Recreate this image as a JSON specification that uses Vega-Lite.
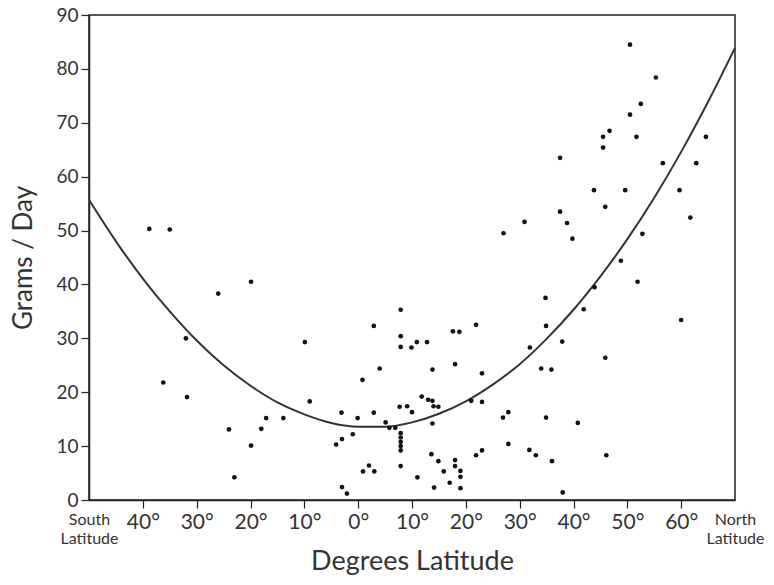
{
  "$schema": "https://vega.github.io/schema/vega-lite/v6.json",
  "width": 646,
  "height": 485,
  "autosize": {"type": "none"},
  "padding": {"left": 89, "top": 15, "right": 39, "bottom": 85},
  "background": "white",
  "config": {
    "font": "Lato",
    "view": {"stroke": "#222", "strokeWidth": 1.5},
    "axis": {"grid": false, "domainColor": "#222", "domainWidth": 1.5, "tickColor": "#222", "tickWidth": 1.2, "labelColor": "#333", "titleColor": "#333", "titleFontWeight": "normal"}
  },
  "datasets": {
    "curve": [
      {"lat": -50, "g": 55.7}, {"lat": -45, "g": 48.0}, {"lat": -40, "g": 41.1}, {"lat": -35, "g": 35.0},
      {"lat": -30, "g": 29.6}, {"lat": -25, "g": 25.0}, {"lat": -20, "g": 21.2}, {"lat": -15, "g": 18.1},
      {"lat": -10, "g": 15.9}, {"lat": -5, "g": 14.3}, {"lat": 0, "g": 13.6}, {"lat": 5, "g": 13.6},
      {"lat": 10, "g": 14.4}, {"lat": 15, "g": 16.0}, {"lat": 20, "g": 18.3}, {"lat": 25, "g": 21.4},
      {"lat": 30, "g": 25.2}, {"lat": 35, "g": 29.9}, {"lat": 40, "g": 35.3}, {"lat": 45, "g": 41.5},
      {"lat": 50, "g": 48.4}, {"lat": 55, "g": 56.1}, {"lat": 60, "g": 64.6}, {"lat": 65, "g": 73.9},
      {"lat": 70, "g": 83.9}
    ],
    "pts": [
      {"lat": -38.8, "g": 50.3}, {"lat": -35.0, "g": 50.2}, {"lat": -26.0, "g": 38.3}, {"lat": -19.9, "g": 40.5},
      {"lat": -32.0, "g": 30.0}, {"lat": -9.9, "g": 29.3}, {"lat": -36.2, "g": 21.8}, {"lat": -31.8, "g": 19.1},
      {"lat": -9.0, "g": 18.3}, {"lat": -17.1, "g": 15.2}, {"lat": -13.9, "g": 15.2}, {"lat": -24.0, "g": 13.1},
      {"lat": -18.0, "g": 13.2}, {"lat": -19.9, "g": 10.1}, {"lat": -23.0, "g": 4.2}, {"lat": -3.1, "g": 16.2},
      {"lat": -1.0, "g": 12.2}, {"lat": -3.0, "g": 11.3}, {"lat": -4.1, "g": 10.3}, {"lat": -3.0, "g": 2.4},
      {"lat": -2.1, "g": 1.2}, {"lat": -0.1, "g": 15.2},
      {"lat": 0.8, "g": 22.3}, {"lat": 2.9, "g": 32.3}, {"lat": 4.0, "g": 24.4}, {"lat": 2.9, "g": 16.2},
      {"lat": 5.1, "g": 14.4}, {"lat": 5.8, "g": 13.4}, {"lat": 6.9, "g": 13.4}, {"lat": 0.9, "g": 5.3},
      {"lat": 2.0, "g": 6.4}, {"lat": 3.0, "g": 5.3}, {"lat": 7.9, "g": 35.3}, {"lat": 7.9, "g": 30.4},
      {"lat": 7.9, "g": 28.4}, {"lat": 9.9, "g": 28.3}, {"lat": 10.9, "g": 29.3}, {"lat": 12.8, "g": 29.3},
      {"lat": 17.6, "g": 31.3}, {"lat": 18.8, "g": 31.2}, {"lat": 21.9, "g": 32.5}, {"lat": 13.8, "g": 24.2},
      {"lat": 18.0, "g": 25.2}, {"lat": 11.8, "g": 19.2}, {"lat": 13.0, "g": 18.6}, {"lat": 13.8, "g": 18.4},
      {"lat": 14.0, "g": 17.4}, {"lat": 14.9, "g": 17.3}, {"lat": 7.7, "g": 17.3}, {"lat": 9.1, "g": 17.4},
      {"lat": 10.0, "g": 16.3}, {"lat": 13.8, "g": 14.2}, {"lat": 21.0, "g": 18.4}, {"lat": 23.0, "g": 18.2},
      {"lat": 7.9, "g": 12.4}, {"lat": 7.9, "g": 11.6}, {"lat": 7.9, "g": 10.8}, {"lat": 7.9, "g": 10.0},
      {"lat": 7.9, "g": 9.2}, {"lat": 7.9, "g": 6.3}, {"lat": 13.6, "g": 8.5}, {"lat": 14.9, "g": 7.2},
      {"lat": 11.0, "g": 4.2}, {"lat": 15.9, "g": 5.3}, {"lat": 17.0, "g": 3.2}, {"lat": 18.0, "g": 7.4},
      {"lat": 18.0, "g": 6.3}, {"lat": 19.0, "g": 5.4}, {"lat": 19.0, "g": 4.3}, {"lat": 19.0, "g": 2.2},
      {"lat": 14.1, "g": 2.3}, {"lat": 21.9, "g": 8.3}, {"lat": 23.0, "g": 9.2}, {"lat": 23.0, "g": 23.5},
      {"lat": 31.9, "g": 28.3}, {"lat": 34.9, "g": 32.3}, {"lat": 37.9, "g": 29.4}, {"lat": 41.9, "g": 35.4},
      {"lat": 34.0, "g": 24.4}, {"lat": 35.9, "g": 24.2}, {"lat": 45.9, "g": 26.4}, {"lat": 26.9, "g": 15.3},
      {"lat": 27.9, "g": 16.3}, {"lat": 34.9, "g": 15.3}, {"lat": 40.8, "g": 14.3}, {"lat": 27.9, "g": 10.4},
      {"lat": 31.8, "g": 9.3}, {"lat": 33.0, "g": 8.3}, {"lat": 36.0, "g": 7.2}, {"lat": 46.1, "g": 8.3},
      {"lat": 38.0, "g": 1.4}, {"lat": 34.8, "g": 37.5}, {"lat": 43.9, "g": 39.5}, {"lat": 51.9, "g": 40.5},
      {"lat": 60.0, "g": 33.4}, {"lat": 50.5, "g": 84.5}, {"lat": 55.3, "g": 78.4}, {"lat": 52.5, "g": 73.5},
      {"lat": 50.5, "g": 71.5}, {"lat": 46.7, "g": 68.5}, {"lat": 45.5, "g": 67.4}, {"lat": 45.5, "g": 65.4},
      {"lat": 51.7, "g": 67.4}, {"lat": 64.6, "g": 67.4}, {"lat": 37.5, "g": 63.5}, {"lat": 56.6, "g": 62.5},
      {"lat": 62.8, "g": 62.5}, {"lat": 43.8, "g": 57.5}, {"lat": 49.6, "g": 57.5}, {"lat": 59.7, "g": 57.5},
      {"lat": 45.9, "g": 54.4}, {"lat": 61.7, "g": 52.4}, {"lat": 37.5, "g": 53.5}, {"lat": 38.8, "g": 51.4},
      {"lat": 39.8, "g": 48.5}, {"lat": 52.8, "g": 49.4}, {"lat": 48.8, "g": 44.4}, {"lat": 27.0, "g": 49.5},
      {"lat": 30.9, "g": 51.6}
    ]
  },
  "encoding": {
    "x": {
      "field": "lat", "type": "quantitative",
      "scale": {"domain": [-50, 70], "nice": false, "zero": false},
      "axis": {
        "title": "Degrees Latitude",
        "titleFontSize": 27,
        "titlePadding": 2,
        "values": [-50, -40, -30, -20, -10, 0, 10, 20, 30, 40, 50, 60, 70],
        "labelExpr": "datum.value == -50 ? ['South', 'Latitude'] : datum.value == 70 ? ['North', 'Latitude'] : abs(datum.value) + '°'",
        "labelFontSize": {"condition": {"test": "datum.value == -50 || datum.value == 70", "value": 16}, "value": 21},
        "labelLineHeight": 19,
        "tickOpacity": {"condition": {"test": "datum.value == -50 || datum.value == 70", "value": 0}, "value": 1},
        "tickSize": 8,
        "labelPadding": 3,
        "labelFlush": false,
        "labelOverlap": false
      }
    },
    "y": {
      "field": "g", "type": "quantitative",
      "scale": {"domain": [0, 90], "nice": false},
      "axis": {
        "title": "Grams / Day",
        "titleFontSize": 26,
        "titlePadding": 19,
        "values": [0, 10, 20, 30, 40, 50, 60, 70, 80, 90],
        "labelFontSize": 19,
        "tickSize": 8,
        "labelPadding": 3,
        "labelFlush": false,
        "labelOverlap": false
      }
    }
  },
  "layer": [
    {
      "data": {"name": "curve"},
      "mark": {"type": "line", "color": "#333", "strokeWidth": 2, "interpolate": "monotone"}
    },
    {
      "data": {"name": "pts"},
      "mark": {"type": "circle", "color": "#111", "size": 22, "opacity": 1}
    }
  ]
}
